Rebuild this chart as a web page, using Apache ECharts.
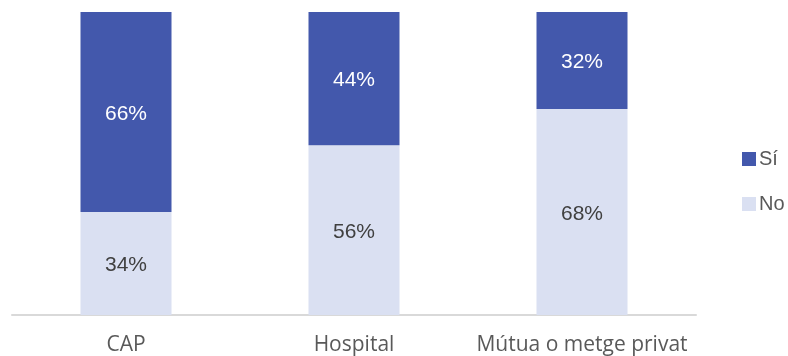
<!DOCTYPE html>
<html><head><meta charset="utf-8">
<script src="https://cdn.jsdelivr.net/npm/echarts@6/dist/echarts.min.js"></script>
<style>html,body{margin:0;padding:0;background:#fff}#c{width:788px;height:356px}</style>
</head><body><div id="c"></div>
<script>
const categories = ['CAP', 'Hospital', 'Mútua o metge privat'];
const noValues = [34, 56, 68];
const siValues = [66, 44, 32];
const seriesNames = ['Sí', 'No'];

const chart = echarts.init(document.getElementById('c'), null, {renderer: 'canvas'});
const mkLabel = (color) => ({show: true, position: 'inside', formatter: '{c}%', color: color, fontSize: 21, fontFamily: 'Liberation Sans', textBorderWidth: 0, offset: [0, 2]});
chart.setOption({
  animation: false,
  grid: {left: 12, right: 92, top: 12, bottom: 41},
  legend: {
    data: seriesNames, orient: 'vertical', left: 737, top: 144,
    itemWidth: 14, itemHeight: 14, itemGap: 25, icon: 'rect',
    textStyle: {color: '#595959', fontSize: 20, fontFamily: 'Liberation Sans', padding: [0, 0, 0, -2]}
  },
  xAxis: {
    type: 'category', data: categories,
    axisLine: {lineStyle: {color: '#d9d9d9', width: 2}},
    axisTick: {show: false},
    axisLabel: {color: '#595959', fontSize: 21, fontFamily: 'Open Sans', margin: 20, interval: 0, hideOverlap: false}
  },
  yAxis: {type: 'value', min: 0, max: 100, show: false, splitLine: {show: false}},
  series: [
    {name: 'No', type: 'bar', stack: 't', data: noValues, barWidth: 91, itemStyle: {color: '#dae0f2'}, label: mkLabel('#404040')},
    {name: 'Sí', type: 'bar', stack: 't', data: siValues, barWidth: 91, itemStyle: {color: '#4358ac'}, label: mkLabel('#ffffff')}
  ]
});
</script></body></html>
